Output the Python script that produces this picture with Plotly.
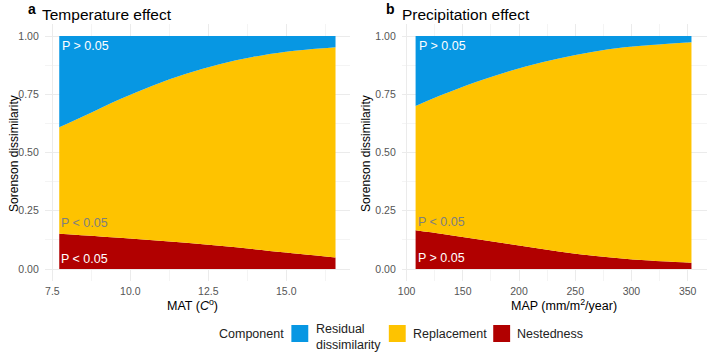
import plotly.graph_objects as go

# ---- data ----
mat_x = [7.72, 8.60, 9.66, 10.73, 11.79, 12.86, 13.92, 14.99, 16.58]
mat_nested = [0.152, 0.144, 0.134, 0.124, 0.113, 0.100, 0.086, 0.071, 0.050]
mat_upper = [0.608, 0.662, 0.729, 0.788, 0.838, 0.879, 0.910, 0.933, 0.952]  # nested + replacement

map_x = [108, 132.1, 161.7, 191.2, 220.6, 250.2, 279.6, 309.1, 353.4]
map_nested = [0.166, 0.150, 0.129, 0.107, 0.086, 0.066, 0.051, 0.039, 0.027]
map_upper = [0.700, 0.749, 0.803, 0.849, 0.887, 0.918, 0.943, 0.958, 0.973]

components = ["Residual<br>dissimilarity", "Replacement", "Nestedness"]
colors = {"Residual<br>dissimilarity": "#0797E3", "Replacement": "#FEC300", "Nestedness": "#B10000"}

FONT = "Liberation Sans, Arial, sans-serif"
W, H = 709, 353

fig = go.Figure()

def add_panel(x, nested, upper, xa, ya):
    top = [1.0] * len(x)
    fig.add_trace(go.Scatter(x=x, y=nested, fill="tozeroy", mode="lines", line=dict(width=0, shape="spline"),
                             fillcolor=colors["Nestedness"], showlegend=False, xaxis=xa, yaxis=ya, hoverinfo="skip"))
    fig.add_trace(go.Scatter(x=x, y=upper, fill="tonexty", mode="lines", line=dict(width=0, shape="spline"),
                             fillcolor=colors["Replacement"], showlegend=False, xaxis=xa, yaxis=ya, hoverinfo="skip"))
    fig.add_trace(go.Scatter(x=x, y=top, fill="tonexty", mode="lines", line=dict(width=0),
                             fillcolor=colors["Residual<br>dissimilarity"], showlegend=False, xaxis=xa, yaxis=ya,
                             hoverinfo="skip"))

add_panel(mat_x, mat_nested, mat_upper, "x", "y")
add_panel(map_x, map_nested, map_upper, "x2", "y2")

ydom = [0.2048, 0.931]
grid = "#EBEBEB"
minor_grid = "#F4F4F4"
tickfont = dict(family=FONT, size=10.5, color="#555555")
yt = dict(range=[-0.05, 1.05], tickvals=[0, 0.25, 0.5, 0.75, 1.0],
          ticktext=["0.00", "0.25", "0.50", "0.75", "1.00"],
          minor=dict(tickvals=[0.125, 0.375, 0.625, 0.875], showgrid=True, gridcolor=minor_grid, gridwidth=0.6),
          showgrid=True, gridcolor=grid, zeroline=False, ticks="", tickfont=tickfont, ticklabelstandoff=5,
          domain=ydom)

fig.update_layout(
    width=W, height=H,
    margin=dict(l=0, r=0, t=0, b=0),
    paper_bgcolor="white", plot_bgcolor="white",
    font=dict(family=FONT, size=13, color="black"),
    showlegend=False,
    xaxis=dict(domain=[0.0578, 0.4908], range=[7.255, 17.045], tickvals=[7.5, 10, 12.5, 15],
               ticktext=["7.5", "10.0", "12.5", "15.0"],
               minor=dict(tickvals=[8.75, 11.25, 13.75, 16.25], showgrid=True, gridcolor=minor_grid, gridwidth=0.6),
               showgrid=True, gridcolor=grid, zeroline=False, ticks="", tickfont=tickfont, anchor="y",
               ticklabelstandoff=3),
    yaxis=dict(anchor="x", **yt),
    xaxis2=dict(domain=[0.5642, 0.9965], range=[95.7, 366.8], tickvals=[100, 150, 200, 250, 300, 350],
                minor=dict(tickvals=[125, 175, 225, 275, 325], showgrid=True, gridcolor=minor_grid, gridwidth=0.6),
                showgrid=True, gridcolor=grid, zeroline=False, ticks="", tickfont=tickfont, anchor="y2",
                ticklabelstandoff=3),
    yaxis2=dict(anchor="x2", **yt),
)

def P(xpix, ypix):
    return xpix / W, 1 - ypix / H

ann = []
def text(t, xpix, ypix, size, xanchor="left", color="black", angle=0):
    x, y = P(xpix, ypix)
    ann.append(dict(text=t, x=x, y=y, xref="paper", yref="paper", showarrow=False, textangle=angle,
                    font=dict(size=size, family=FONT, color=color), xanchor=xanchor, yanchor="middle",
                    align="left" if xanchor == "left" else "center", borderpad=0, borderwidth=0))

# panel titles
text("<b>a</b>", 28, 9, 14, "center")
text("Temperature effect", 38, 15, 15.5)
text("<b>b</b>", 388.5, 9, 14, "center")
text("Precipitation effect", 400, 15, 15.5)
# axis titles
text("Sorenson dissimilarity", 10, 153, 12, "center", angle=-90)
text("Sorenson dissimilarity", 364, 153, 12, "center", angle=-90)
text("MAT (<i>C</i><sup>o</sup>)", 190, 305, 12.5, "center")
text("MAP (mm/m<sup>2</sup>/year)", 563, 305, 12.5, "center")

# legend (manual)
text("Component", 216, 333.5, 12.5, color="#222222")
legend_swatch_x = [289, 387, 492]
legend_text_x = [314, 411, 516]
shapes = []
for c, sx, tx in zip(components, legend_swatch_x, legend_text_x):
    x0, y1 = P(sx, 325)
    x1, y0 = P(sx + 17, 342)
    shapes.append(dict(type="rect", xref="paper", yref="paper", x0=x0, x1=x1, y0=y0, y1=y1,
                       fillcolor=colors[c], line=dict(width=0)))
    text(c, tx, 337 if "<br>" in c else 333.5, 12.5, color="#222222")

# p-value labels
pf = dict(size=12.5, family=FONT)
ann += [
    dict(text="P > 0.05", x=7.76, y=0.957, xref="x", yref="y", showarrow=False, xanchor="left", yanchor="middle",
         font=dict(color="white", **pf)),
    dict(text="P < 0.05", x=7.70, y=0.197, xref="x", yref="y", showarrow=False, xanchor="left", yanchor="middle",
         font=dict(color="#7f7f7f", **pf)),
    dict(text="P < 0.05", x=7.70, y=0.045, xref="x", yref="y", showarrow=False, xanchor="left", yanchor="middle",
         font=dict(color="white", **pf)),
    dict(text="P > 0.05", x=109.5, y=0.957, xref="x2", yref="y2", showarrow=False, xanchor="left", yanchor="middle",
         font=dict(color="white", **pf)),
    dict(text="P < 0.05", x=108.8, y=0.200, xref="x2", yref="y2", showarrow=False, xanchor="left", yanchor="middle",
         font=dict(color="#7f7f7f", **pf)),
    dict(text="P > 0.05", x=108.8, y=0.049, xref="x2", yref="y2", showarrow=False, xanchor="left", yanchor="middle",
         font=dict(color="white", **pf)),
]
fig.update_layout(annotations=ann, shapes=shapes)

fig.write_html("out.html")
